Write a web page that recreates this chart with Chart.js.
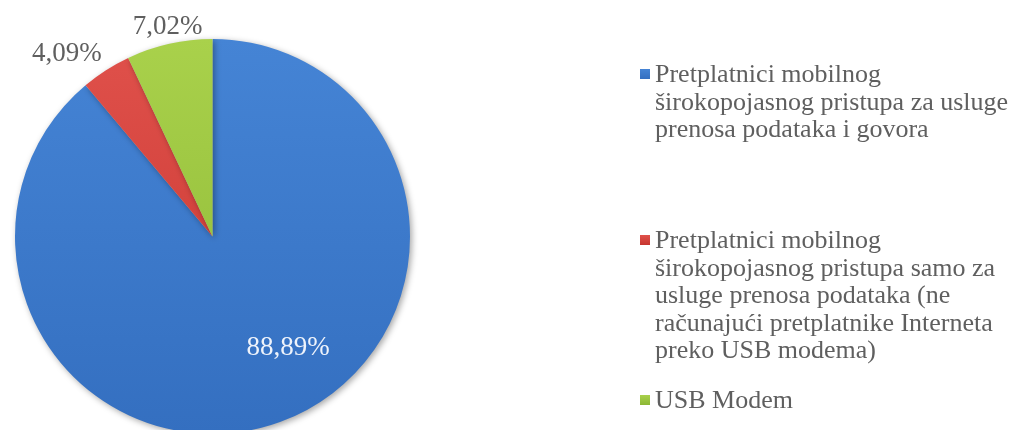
<!DOCTYPE html>
<html>
<head>
<meta charset="utf-8">
<script src="https://cdn.jsdelivr.net/npm/chart.js@4/dist/chart.umd.min.js"></script>
<style>
  html, body { margin: 0; padding: 0; background: #fff; overflow: hidden; }
  #wrap { position: relative; width: 1025px; height: 430px; overflow: hidden; }
  #box { position: absolute; left: 0; top: 0; width: 1025px; height: 440px; }
  .item { position: absolute; left: 640px; font-family: "Liberation Serif", "Times New Roman", serif;
          font-size: 26px; line-height: 27.5px; color: #5f5f5f; white-space: nowrap; }
  .item .mk { position: absolute; left: 0; top: 9px; width: 10px; height: 10px; }
  .item .tx { margin-left: 15px; }
</style>
</head>
<body>
<div id="wrap">
  <div id="box"><canvas id="chart"></canvas></div>
</div>
<script>
var labels = [
  ["Pretplatnici mobilnog", "širokopojasnog pristupa za usluge", "prenosa podataka i govora"],
  ["Pretplatnici mobilnog", "širokopojasnog pristupa samo za", "usluge prenosa podataka (ne", "računajući pretplatnike Interneta", "preko USB modema)"],
  ["USB Modem"]
];
var values = [88.89, 4.09, 7.02];
var valueText = ["88,89%", "4,09%", "7,02%"];

var lightColors = ["#4584d5", "#e0514b", "#a9d14b"];
var darkColors = ["#346fc0", "#c6352f", "#8cb735"];
var legendTops = [60, 226, 386];

var canvas = document.getElementById("chart");
var ctx = canvas.getContext("2d");

function sliceFill(context) {
  var chart = context.chart;
  var area = chart.chartArea;
  if (!area) return lightColors[context.dataIndex];
  var g = chart.ctx.createLinearGradient(0, area.top, 0, area.bottom);
  g.addColorStop(0, lightColors[context.dataIndex]);
  g.addColorStop(1, darkColors[context.dataIndex]);
  return g;
}

var shadowPlugin = {
  id: "shadow",
  beforeDatasetsDraw: function(chart) {
    var c = chart.ctx;
    c.save();
    c.shadowColor = "rgba(0,0,0,0.35)";
    c.shadowBlur = 6;
    c.shadowOffsetX = 2;
    c.shadowOffsetY = 2;
  },
  afterDatasetsDraw: function(chart) {
    chart.ctx.restore();
  }
};

var valueLabels = {
  id: "valueLabels",
  afterDatasetsDraw: function(chart) {
    var c = chart.ctx;
    var meta = chart.getDatasetMeta(0);
    var total = values.reduce(function(a, b) { return a + b; }, 0);
    c.save();
    c.font = "27px 'Liberation Serif', 'Times New Roman', serif";
    meta.data.forEach(function(arc, i) {
      var p = arc.getProps(["x", "y", "startAngle", "endAngle", "outerRadius"], true);
      var mid = (p.startAngle + p.endAngle) / 2;
      var ux = Math.cos(mid), uy = Math.sin(mid);
      if (values[i] / total > 0.2) {
        // big slice: label inside, white
        var r = p.outerRadius * 0.68;
        var a = mid - 0.25;
        c.fillStyle = "#eef3fb";
        c.textAlign = "center";
        c.textBaseline = "middle";
        c.fillText(valueText[i], p.x + Math.cos(a) * r, p.y + Math.sin(a) * r);
      } else {
        var ro = p.outerRadius + 8;
        var x = p.x + ux * ro, y = p.y + uy * ro;
        c.fillStyle = "#5f5f5f";
        c.textAlign = ux < -0.3 ? "right" : (ux > 0.3 ? "left" : "center");
        c.textBaseline = uy < -0.3 ? "alphabetic" : (uy > 0.3 ? "top" : "middle");
        c.fillText(valueText[i], x, y - 2);
      }
    });
    c.restore();
  }
};

new Chart(ctx, {
  type: "pie",
  data: {
    labels: labels,
    datasets: [{
      data: values,
      backgroundColor: sliceFill,
      borderWidth: 0
    }]
  },
  options: {
    responsive: true,
    maintainAspectRatio: false,
    animation: false,
    layout: { padding: { left: 15, right: 615, top: 39, bottom: 6 } },
    plugins: {
      legend: { display: false },
      tooltip: { enabled: false }
    }
  },
  plugins: [shadowPlugin, valueLabels]
});

// legend built from the same arrays
var wrap = document.getElementById("wrap");
labels.forEach(function(lines, i) {
  var item = document.createElement("div");
  item.className = "item";
  item.style.top = legendTops[i] + "px";
  var mk = document.createElement("div");
  mk.className = "mk";
  mk.style.background = "linear-gradient(" + lightColors[i] + ", " + darkColors[i] + ")";
  item.appendChild(mk);
  var tx = document.createElement("div");
  tx.className = "tx";
  tx.innerHTML = lines.join("<br>");
  item.appendChild(tx);
  wrap.appendChild(item);
});
</script>
</body>
</html>
